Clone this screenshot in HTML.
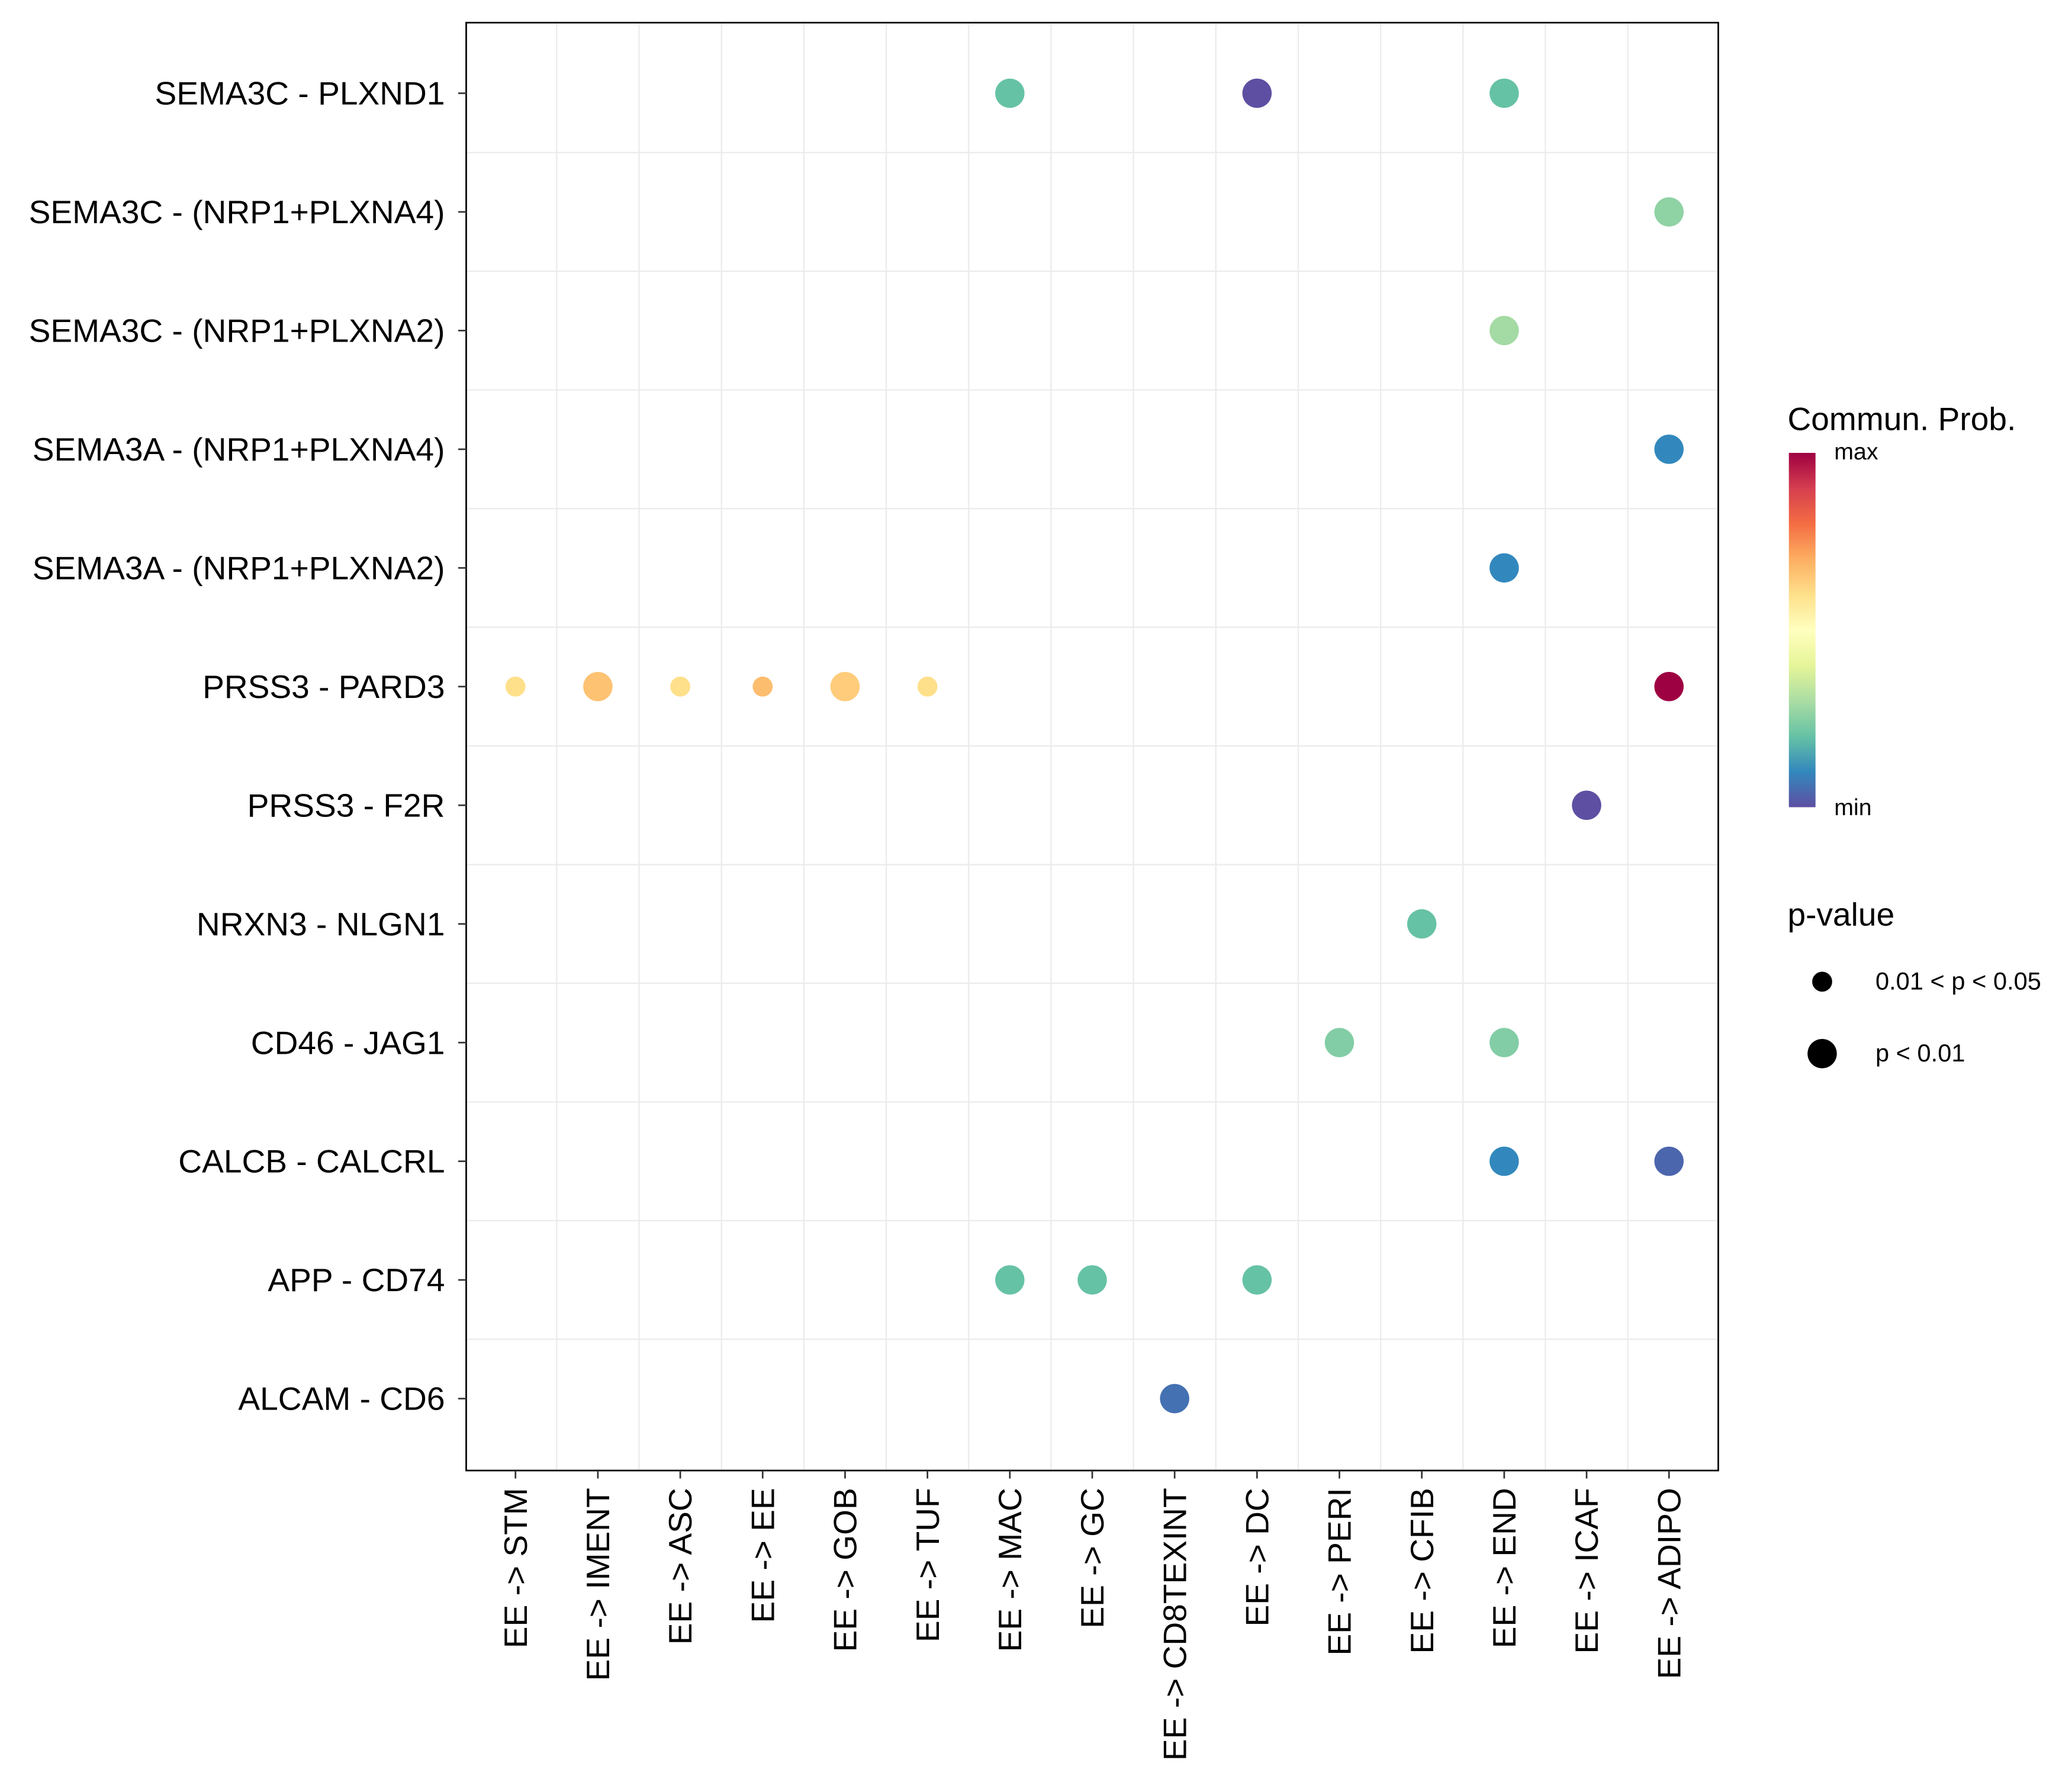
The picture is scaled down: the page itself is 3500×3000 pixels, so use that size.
<!DOCTYPE html>
<html><head><meta charset="utf-8"><style>
html,body{margin:0;padding:0;background:#fff}
svg{display:block}
text{font-family:"Liberation Sans",Arial,sans-serif;fill:#000}
</style></head><body>
<svg id="chart" width="3500" height="3000" viewBox="0 0 1555.56 1333.33" preserveAspectRatio="none" xmlns="http://www.w3.org/2000/svg">
<defs>
<linearGradient id="cbar" x1="0" y1="1" x2="0" y2="0">
<stop offset="0" stop-color="#5E4FA2"/><stop offset="0.1" stop-color="#3288BD"/><stop offset="0.2" stop-color="#66C2A5"/><stop offset="0.3" stop-color="#ABDDA4"/><stop offset="0.4" stop-color="#E6F598"/><stop offset="0.5" stop-color="#FFFFBF"/><stop offset="0.6" stop-color="#FEE08B"/><stop offset="0.7" stop-color="#FDAE61"/><stop offset="0.8" stop-color="#F46D43"/><stop offset="0.9" stop-color="#D53E4F"/><stop offset="1" stop-color="#9E0142"/>
</linearGradient>
</defs>
<rect x="0" y="0" width="1555.56" height="1333.33" fill="#fff"/>
<g id="grid"></g>
<g id="points"></g>
<rect x="350" y="17" width="940" height="1087" fill="none" stroke="#000" stroke-width="1.2"/>
<g id="axes"></g>
<g>
<text x="1342" y="323" font-size="24.5">Commun. Prob.</text>
<rect x="1343" y="340" width="20" height="266" fill="url(#cbar)"/>
<text x="1377" y="345" font-size="17.5">max</text>
<text x="1377" y="612" font-size="17.5">min</text>
</g>
<g>
<text x="1342" y="695" font-size="24.5">p-value</text>
<circle cx="1368" cy="737" r="7.5" fill="#000"/>
<text x="1408" y="743" font-size="18.5">0.01 &lt; p &lt; 0.05</text>
<circle cx="1368" cy="791" r="11" fill="#000"/>
<text x="1408" y="797" font-size="18.5">p &lt; 0.01</text>
</g>
</svg>
<script>
const xCats = ["EE -> STM","EE -> IMENT","EE -> ASC","EE -> EE","EE -> GOB","EE -> TUF","EE -> MAC","EE -> GC","EE -> CD8TEXINT","EE -> DC","EE -> PERI","EE -> CFIB","EE -> END","EE -> ICAF","EE -> ADIPO"];
const yCats = ["ALCAM - CD6","APP - CD74","CALCB - CALCRL","CD46 - JAG1","NRXN3 - NLGN1","PRSS3 - F2R","PRSS3 - PARD3","SEMA3A - (NRP1+PLXNA2)","SEMA3A - (NRP1+PLXNA4)","SEMA3C - (NRP1+PLXNA2)","SEMA3C - (NRP1+PLXNA4)","SEMA3C - PLXND1"];
const ptX = ["EE -> MAC","EE -> DC","EE -> END","EE -> ADIPO","EE -> END","EE -> ADIPO","EE -> END","EE -> STM","EE -> IMENT","EE -> ASC","EE -> EE","EE -> GOB","EE -> TUF","EE -> ADIPO","EE -> ICAF","EE -> CFIB","EE -> PERI","EE -> END","EE -> END","EE -> ADIPO","EE -> MAC","EE -> GC","EE -> DC","EE -> CD8TEXINT"];
const ptY = ["SEMA3C - PLXND1","SEMA3C - PLXND1","SEMA3C - PLXND1","SEMA3C - (NRP1+PLXNA4)","SEMA3C - (NRP1+PLXNA2)","SEMA3A - (NRP1+PLXNA4)","SEMA3A - (NRP1+PLXNA2)","PRSS3 - PARD3","PRSS3 - PARD3","PRSS3 - PARD3","PRSS3 - PARD3","PRSS3 - PARD3","PRSS3 - PARD3","PRSS3 - PARD3","PRSS3 - F2R","NRXN3 - NLGN1","CD46 - JAG1","CD46 - JAG1","CALCB - CALCRL","CALCB - CALCRL","APP - CD74","APP - CD74","APP - CD74","ALCAM - CD6"];
const ptProb = [0.2,0.0,0.2,0.26,0.29,0.1,0.1,0.6,0.66,0.6,0.67,0.64,0.6,1.0,0.0,0.2,0.24,0.24,0.1,0.04,0.2,0.2,0.2,0.06];
const ptSig = [2,2,2,2,2,2,2,1,2,1,1,2,1,2,2,2,2,2,2,2,2,2,2,2];

const NS="http://www.w3.org/2000/svg";
const x0=387, dx=(1253-387)/14, y0=1050, dy=(1050-70)/11;
const xScale = c => x0 + xCats.indexOf(c)*dx;
const yScale = c => y0 - yCats.indexOf(c)*dy;
const spectral=["#5E4FA2","#3288BD","#66C2A5","#ABDDA4","#E6F598","#FFFFBF","#FEE08B","#FDAE61","#F46D43","#D53E4F","#9E0142"];
function hex(h){return [1,3,5].map(i=>parseInt(h.substr(i,2),16));}
function colorScale(v){v=Math.max(0,Math.min(1,v))*10;const i=Math.min(9,Math.floor(v)),t=v-i;const a=hex(spectral[i]),b=hex(spectral[i+1]);return "rgb("+a.map((c,k)=>Math.round(c+(b[k]-c)*t)).join(",")+")";}
const sizeScale = s => s===2 ? 11 : 7.5;
function mk(tag,attrs,parent){const e=document.createElementNS(NS,tag);for(const k in attrs)e.setAttribute(k,attrs[k]);parent.appendChild(e);return e;}
const grid=document.getElementById('grid'), pts=document.getElementById('points'), axes=document.getElementById('axes');
for(let i=0;i<xCats.length-1;i++){
  const l=mk('line',{x1:x0+(i+0.5)*dx,x2:x0+(i+0.5)*dx,y1:17,y2:1104,stroke:'#ebebeb','stroke-width':1},grid);
  
  
}
for(let i=0;i<yCats.length-1;i++){
  const y=y0-(i+0.5)*dy;
  const l=mk('line',{x1:350,x2:1290,y1:y,y2:y,stroke:'#ebebeb','stroke-width':1},grid);
  
  
}
xCats.forEach(c=>{
  const x=xScale(c);
  const t=mk('line',{x1:x,x2:x,y1:1104,y2:1110,stroke:'#333','stroke-width':1.2},axes);
  
  
  const tx=mk('text',{x:0,y:0,'font-size':24.5,'text-anchor':'end',transform:`translate(${x+8.5},1117) rotate(-90)`},axes);
  tx.textContent=c;
  
  
});
yCats.forEach(c=>{
  const y=yScale(c);
  const t=mk('line',{x1:344,x2:350,y1:y,y2:y,stroke:'#333','stroke-width':1.2},axes);
  
  
  const tx=mk('text',{x:334,y:y+8.5,'font-size':24.5,'text-anchor':'end'},axes);
  tx.textContent=c;
  
  
});
ptX.forEach((c,i)=>{
  const p=mk('circle',{cx:xScale(c),cy:yScale(ptY[i]),r:sizeScale(ptSig[i]),fill:colorScale(ptProb[i])},pts);
  
  
});
</script>
</body></html>
